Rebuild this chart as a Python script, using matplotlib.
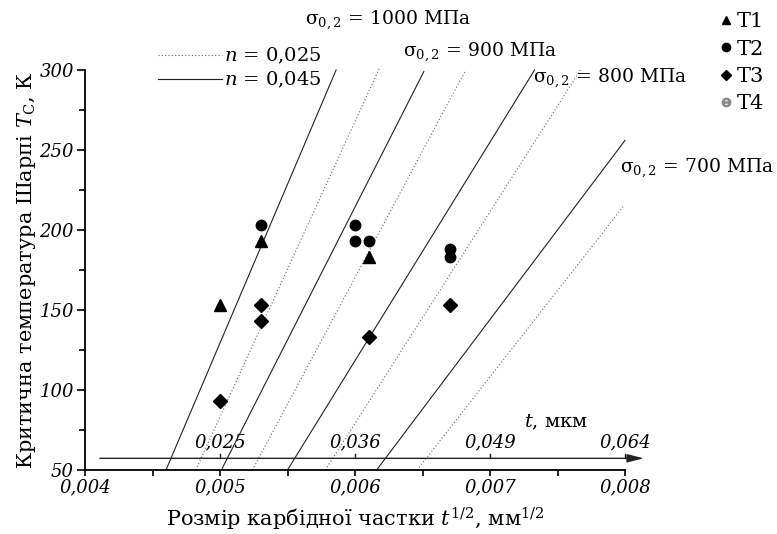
import numpy as np
import matplotlib
matplotlib.use("Agg")
import matplotlib.pyplot as plt
from matplotlib.lines import Line2D
from matplotlib.ticker import MultipleLocator, FuncFormatter

plt.rcParams['font.family'] = ['DejaVu Serif']
plt.rcParams['mathtext.fontset'] = 'dejavuserif'

# experimental points: sqrt(t), mm^1/2  vs  Charpy temperature, K
t1_x = [0.0050, 0.0053, 0.0061]
t1_y = [153, 193, 183]
t2_x = [0.0053, 0.0060, 0.0060, 0.0061, 0.0067, 0.0067]
t2_y = [203, 203, 193, 193, 188, 183]
t3_x = [0.0050, 0.0053, 0.0053, 0.0061, 0.0067]
t3_y = [93, 153, 143, 133, 153]

# calculated lines for each yield strength (start at T=50 K)
sigma_labels = [1000, 900, 800, 700]
solid_x0 = [0.00460, 0.00501, 0.00550, 0.00616]
solid_x1 = [0.00586, 0.00651, 0.00733, 0.00800]
solid_t1 = [300, 299, 300, 256]
dotted_x0 = [0.00482, 0.00524, 0.00578, 0.00646]
dotted_x1 = [0.00618, 0.00682, 0.00767, 0.00799]
dotted_t1 = [301, 300, 300, 215]

# secondary scale: carbide size t, um
t_um = [0.025, 0.036, 0.049, 0.064]
t_um_labels = ['0,025', '0,036', '0,049', '0,064']

fig = plt.figure(figsize=(7.77, 5.34), dpi=100)
ax = fig.add_axes([85 / 777, 1 - 470 / 534, 540 / 777, 400 / 534])

for x0, x1, y1 in zip(solid_x0, solid_x1, solid_t1):
    ax.plot([x0, x1], [50, y1], color='#222222', lw=0.8, clip_on=False)
for x0, x1, y1 in zip(dotted_x0, dotted_x1, dotted_t1):
    ax.plot([x0, x1], [50, y1], color='#666666', lw=0.8,
            linestyle=(0, (1, 2)), clip_on=False)

ax.plot(t1_x, t1_y, '^', color='black', ms=8, clip_on=False)
ax.plot(t2_x, t2_y, 'o', color='black', ms=7.5, clip_on=False)
ax.plot(t3_x, t3_y, 'D', color='black', ms=7, clip_on=False)

ax.set_xlim(0.004, 0.008)
ax.set_ylim(50, 300)
for side in ['top', 'right']:
    ax.spines[side].set_visible(False)
ax.spines['left'].set_linewidth(1.3)
ax.spines['bottom'].set_linewidth(1.3)

ax.xaxis.set_major_locator(MultipleLocator(0.001))
ax.xaxis.set_minor_locator(MultipleLocator(0.0005))
ax.yaxis.set_major_locator(MultipleLocator(50))
ax.yaxis.set_minor_locator(MultipleLocator(25))
ax.xaxis.set_major_formatter(FuncFormatter(lambda v, p: f"{v:.3f}".replace('.', ',')))
ax.yaxis.set_major_formatter(FuncFormatter(lambda v, p: f"{v:.0f}"))
ax.tick_params(which='major', direction='out', length=6, width=1.2, labelsize=13, pad=2)
ax.tick_params(which='minor', direction='out', length=4, width=1.2)
ax.tick_params(axis='x', which='major', length=4)
for lbl in ax.get_xticklabels() + ax.get_yticklabels():
    lbl.set_fontstyle('italic')

ax.set_xlabel(r"Розмір карбідної частки $t^{1/2}$, мм$^{1/2}$", fontsize=15, labelpad=7)
ax.set_ylabel(r"Критична температура Шарпі $T_\mathrm{C}$, К", fontsize=15, labelpad=1)

# secondary t axis with arrow
t_axis_y = 57.3
ax.annotate('', xy=(0.00816, t_axis_y), xytext=(0.00409, t_axis_y),
            arrowprops=dict(arrowstyle='-|>,head_length=1.0,head_width=0.25',
                            color='#222222', lw=1.0),
            annotation_clip=False)
for tv, lab in zip(t_um, t_um_labels):
    xs = np.sqrt(tv * 1e-3)
    ax.plot([xs, xs], [t_axis_y, t_axis_y + 3], color='#222222', lw=1.0, clip_on=False)
    ax.text(xs, t_axis_y + 4.5, lab, ha='center', va='bottom', fontsize=13,
            fontstyle='italic')
ax.text(0.00749, 79.5, r"$t$, мкм", ha='center', va='center', fontsize=14)

# yield strength labels
sig_pos = [(0.005630, 331.2), (0.006356, 311.2), (0.007319, 295.0), (0.007963, 238.7)]
for (sx, sy), s in zip(sig_pos, sigma_labels):
    ax.text(sx, sy, f"σ$_{{0,2}}$ = {s} МПа", ha='left', va='center',
            fontsize=13.5, clip_on=False)

# line style legend
style_handles = [Line2D([], [], color='#666666', lw=0.8, linestyle=(0, (1, 2))),
                 Line2D([], [], color='#222222', lw=0.8)]
fig.legend(style_handles, [r"$n$ = 0,025", r"$n$ = 0,045"],
           loc='upper left', bbox_to_anchor=(150 / 777, 1 - 38 / 534),
           frameon=False, fontsize=14, handlelength=3.3, handletextpad=0.1,
           labelspacing=0.2, borderaxespad=0)

# sample legend
sample_handles = [Line2D([], [], marker='^', color='black', ls='', ms=6),
                  Line2D([], [], marker='o', color='black', ls='', ms=6),
                  Line2D([], [], marker='D', color='black', ls='', ms=5),
                  Line2D([], [], marker=r'$\ominus$', color='#888888', ls='', ms=6)]
fig.legend(sample_handles, ['T1', 'T2', 'T3', 'T4'],
           loc='upper left', bbox_to_anchor=(710 / 777, 1 - 4 / 534),
           frameon=False, fontsize=15, handlelength=0.7, handletextpad=0.2,
           labelspacing=0.4, borderaxespad=0)

fig.savefig('out.png', dpi=100)
